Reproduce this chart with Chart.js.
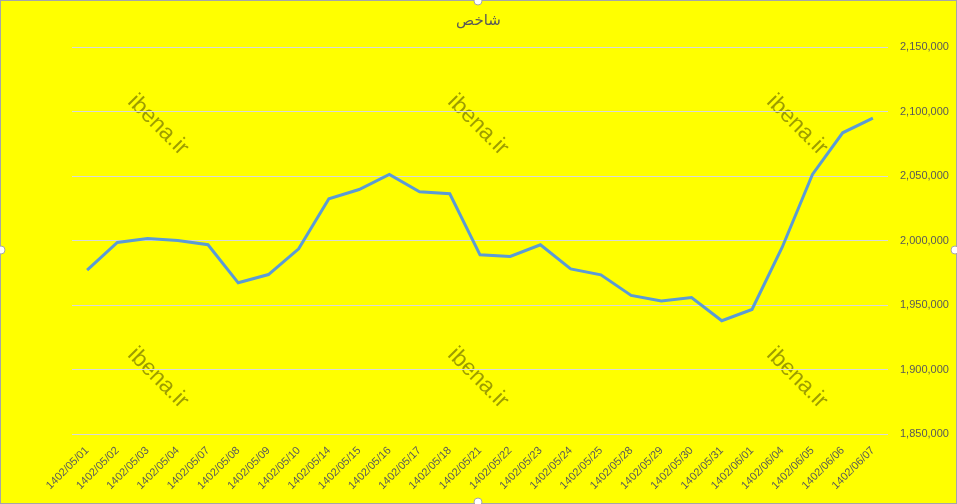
<!DOCTYPE html>
<html>
<head>
<meta charset="utf-8">
<script src="https://cdn.jsdelivr.net/npm/chart.js@4"></script>
<style>
  html, body { margin: 0; padding: 0; background: #ffff00; }
  #wrap { width: 957px; height: 504px; position: relative; }
</style>
</head>
<body>
<div id="wrap"><canvas id="chart"></canvas></div>
<script>
// Dates (Persian calendar)
const dates = [
  "1402/05/01", "1402/05/02", "1402/05/03", "1402/05/04", "1402/05/07",
  "1402/05/08", "1402/05/09", "1402/05/10", "1402/05/14", "1402/05/15",
  "1402/05/16", "1402/05/17", "1402/05/18", "1402/05/21", "1402/05/22",
  "1402/05/23", "1402/05/24", "1402/05/25", "1402/05/28", "1402/05/29",
  "1402/05/30", "1402/05/31", "1402/06/01", "1402/06/04", "1402/06/05",
  "1402/06/06", "1402/06/07"
];

// Index values
const indexValues = [
  1977000, 1998500, 2001500, 2000000, 1996700,
  1967200, 1973600, 1993500, 2032300, 2039500,
  2051200, 2037700, 2036200, 1988900, 1987600,
  1996700, 1978000, 1973400, 1957400, 1953200,
  1955800, 1937800, 1946500, 1994800, 2051200,
  2083500, 2094800
];

const yMin = 1850000;
const yMax = 2150000;
const yStep = 50000;

const textColor = "#595959";
const baseFont = "'Liberation Sans', 'DejaVu Sans', sans-serif";

// Background, watermarks and frame
const decorPlugin = {
  id: "decor",
  beforeDraw(chart) {
    const ctx = chart.ctx;
    ctx.save();
    ctx.fillStyle = "#ffff00";
    ctx.fillRect(0, 0, chart.width, chart.height);
    ctx.fillStyle = "rgba(60, 60, 0, 0.5)";
    ctx.font = "23px " + baseFont;
    ctx.textAlign = "center";
    ctx.textBaseline = "middle";
    const spots = [[158, 125], [478, 125], [797, 125], [158, 378], [478, 378], [797, 378]];
    spots.forEach(([x, y]) => {
      ctx.save();
      ctx.translate(x, y);
      ctx.rotate(Math.PI / 4);
      ctx.fillText("ibena.ir", 0, 0);
      ctx.restore();
    });
    ctx.restore();
  },
  afterDraw(chart) {
    const ctx = chart.ctx;
    const w = chart.width, h = chart.height;
    ctx.save();
    ctx.strokeStyle = "#a6a6a6";
    ctx.lineWidth = 1;
    ctx.strokeRect(0.5, 0.5, w - 1, h - 1);
    const handles = [[478, 1], [1, 250], [w - 2, 250], [478, h - 2]];
    handles.forEach(([x, y]) => {
      ctx.beginPath();
      ctx.arc(x, y, 4, 0, Math.PI * 2);
      ctx.fillStyle = "#ffffff";
      ctx.fill();
      ctx.strokeStyle = "#a6a6a6";
      ctx.stroke();
    });
    ctx.restore();
  }
};

new Chart(document.getElementById("chart"), {
  type: "line",
  data: {
    labels: dates,
    datasets: [
      {
        label: "شاخص",
        data: indexValues,
        borderColor: "#5b9bd5",
        borderWidth: 3,
        pointRadius: 0,
        tension: 0,
        fill: false,
        yAxisID: "y"
      }
    ]
  },
  options: {
    responsive: true,
    maintainAspectRatio: false,
    animation: false,
    layout: { padding: { left: 0, top: 12, right: 0, bottom: 0 } },
    plugins: {
      legend: { display: false },
      tooltip: { enabled: false },
      title: {
        display: true,
        text: "شاخص",
        color: textColor,
        font: { family: baseFont, size: 15, weight: "normal" },
        padding: { top: 0, bottom: 17 }
      }
    },
    scales: {
      x: {
        offset: true,
        grid: { display: false },
        border: { display: false },
        ticks: {
          color: textColor,
          font: { family: baseFont, size: 11 },
          minRotation: 45,
          maxRotation: 45,
          autoSkip: false,
          padding: 2
        },
        afterFit(scale) { scale.height = 70; }
      },
      y: {
        position: "right",
        min: yMin,
        max: yMax,
        grid: { color: "#d9d9d9", lineWidth: 1, drawTicks: false },
        border: { display: false },
        ticks: {
          stepSize: yStep,
          color: textColor,
          font: { family: baseFont, size: 11 },
          padding: 12,
          callback: (v) => v.toLocaleString("en-US")
        },
        afterFit(scale) { scale.width = 69; }
      },
      // empty left spacer so the plot starts where the original does
      spacer: {
        position: "left",
        min: yMin,
        max: yMax,
        grid: { display: false },
        border: { display: false },
        ticks: { display: false },
        afterFit(scale) { scale.width = 72; }
      }
    }
  },
  plugins: [decorPlugin]
});
</script>
</body>
</html>
